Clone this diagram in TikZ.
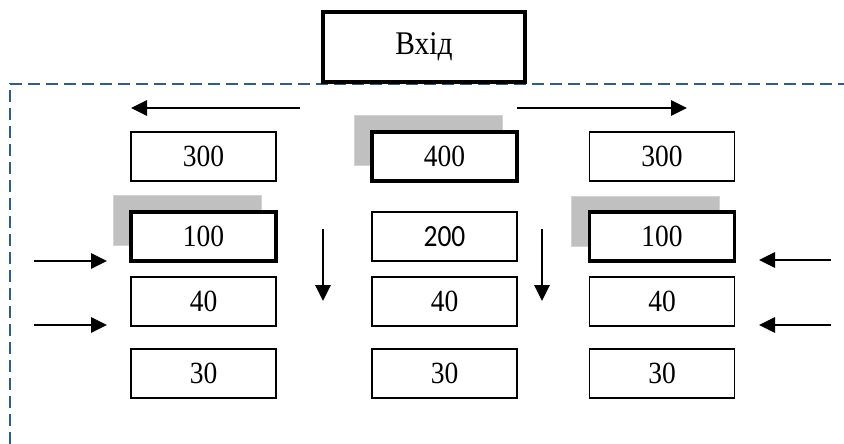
\documentclass[tikz,border=0pt]{standalone}
\usepackage{fontspec}
\setmainfont{Liberation Serif}
\newfontfamily\calib{Carlito}
\usetikzlibrary{arrows.meta}
\definecolor{dashblue}{HTML}{2E5C8C}
\definecolor{shadowgray}{HTML}{C0C0C0}
\newcommand{\tall}[1]{\scalebox{1}[1.12]{#1}}
\begin{document}
\begin{tikzpicture}[x=1pt,y=-1pt,
  thinbox/.style={draw=black,line width=1.6pt,fill=white,minimum width=145pt,minimum height=49pt,inner sep=0pt,font=\fontsize{27.5}{32}\selectfont},
  thickbox/.style={thinbox,line width=3.6pt},
  shadowbox/.style={draw=shadowgray!70!white,line width=1pt,fill=shadowgray,minimum width=148pt,minimum height=50pt,inner sep=0pt},
  arr/.style={line width=2.8pt,-{Triangle[length=16pt,width=15pt]}}]
\useasboundingbox (0,0) rectangle (844,444);
% dashed frame
\draw[dashblue,line width=2pt,dash pattern=on 12pt off 6pt] (10,444) -- (10,84) -- (844,84);
% input box
\node[thickbox,minimum width=202pt,minimum height=70pt,font=\fontsize{29.5}{34}\selectfont] (in) at (424,47) {\tall{Вхід}};
% shadows
\node[shadowbox] (s1) at (428.5,140.5) {};
\node[shadowbox] (s2) at (187.5,220) {};
\node[shadowbox] (s3) at (645.5,221) {};
% row 1
\node[thinbox] (a1) at (203.5,156.5) {\tall{300}};
\node[thickbox] (b1) at (444.5,156.5) {\raisebox{-5pt}{\tall{400}}};
\node[thinbox] (c1) at (662,156.5) {\tall{300}};
% row 2
\node[thickbox] (a2) at (203.5,236.5) {\tall{100}};
\node[thinbox] (b2) at (444.5,236.5) {\calib\raisebox{-3pt}{\tall{200}}};
\node[thickbox] (c2) at (662,236.5) {\tall{100}};
% row 3
\node[thinbox] (a3) at (203.5,301.5) {\tall{40}};
\node[thinbox] (b3) at (444.5,301.5) {\tall{40}};
\node[thinbox] (c3) at (662,301.5) {\tall{40}};
% row 4
\node[thinbox] (a4) at (203.5,373.5) {\tall{30}};
\node[thinbox] (b4) at (444.5,373.5) {\tall{30}};
\node[thinbox] (c4) at (662,373.5) {\tall{30}};
% arrow coordinates
\coordinate (tl1) at (300,108); \coordinate (tl2) at (131,108);
\coordinate (tr1) at (517,108); \coordinate (tr2) at (687,108);
\coordinate (d1a) at (323,229); \coordinate (d1b) at (323,301);
\coordinate (d2a) at (542,229); \coordinate (d2b) at (542,301);
\coordinate (l1a) at (34,261); \coordinate (l1b) at (107,261);
\coordinate (l2a) at (34,325); \coordinate (l2b) at (107,325);
\coordinate (r1a) at (831,260); \coordinate (r1b) at (759,260);
\coordinate (r2a) at (831,325); \coordinate (r2b) at (759,325);
\draw[arr] (tl1) -- (tl2);
\draw[arr] (tr1) -- (tr2);
\draw[arr] (d1a) -- (d1b);
\draw[arr] (d2a) -- (d2b);
\draw[arr] (l1a) -- (l1b);
\draw[arr] (l2a) -- (l2b);
\draw[arr] (r1a) -- (r1b);
\draw[arr] (r2a) -- (r2b);
\end{tikzpicture}
\end{document}
